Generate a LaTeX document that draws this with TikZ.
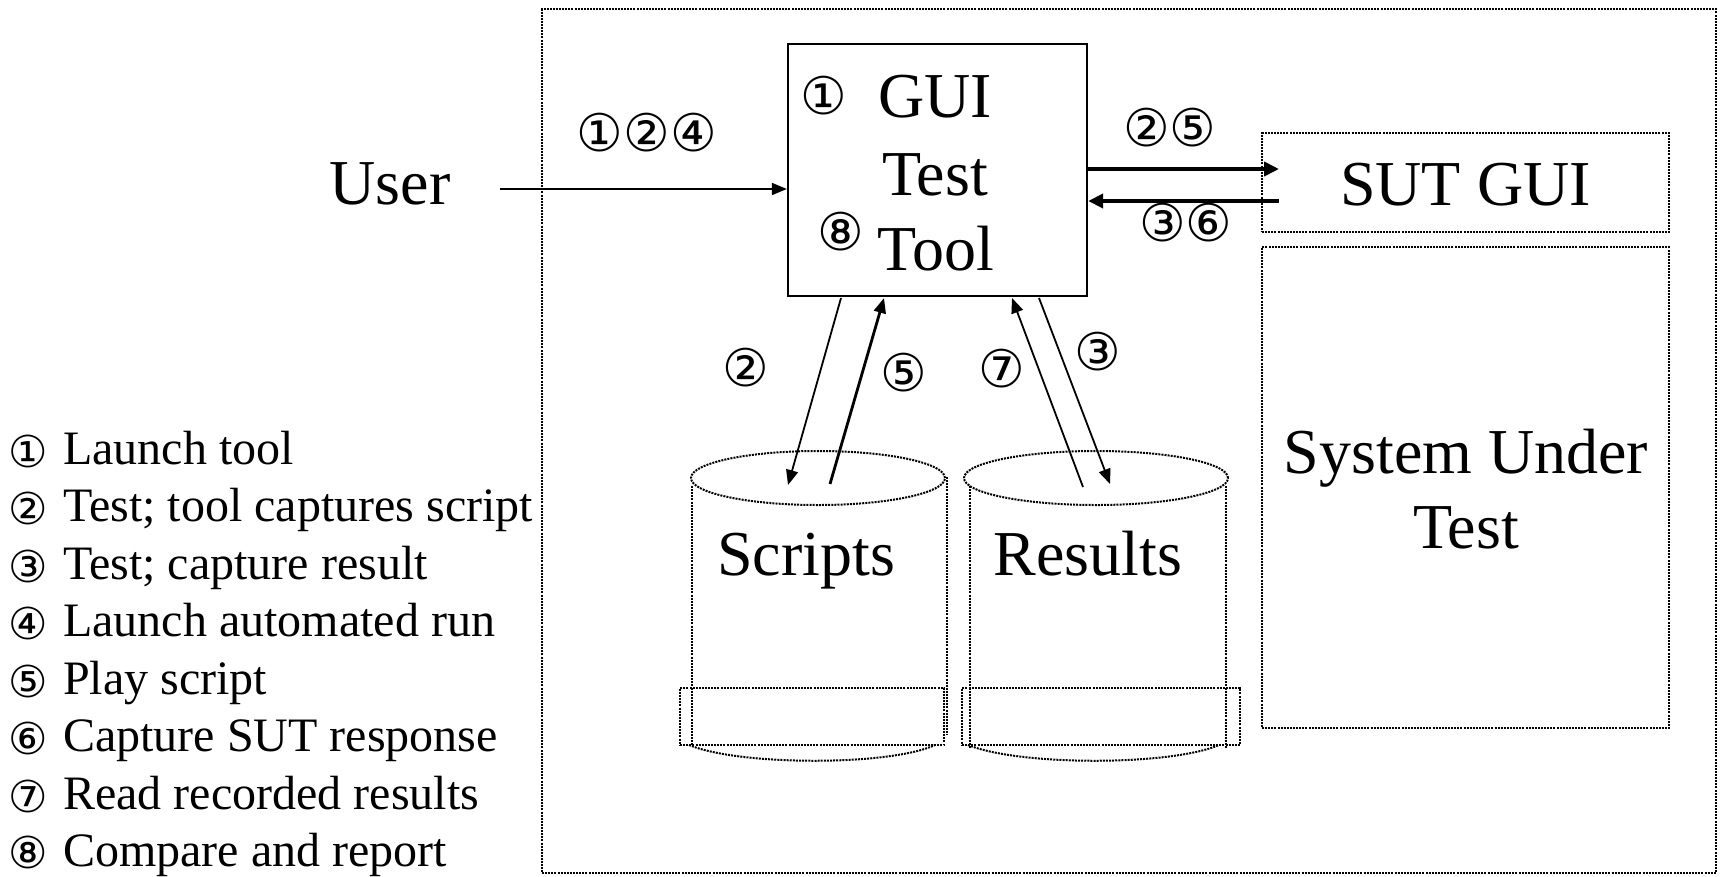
\documentclass[tikz,border=0pt]{standalone}
\usepackage{fontspec}
\setmainfont{Liberation Serif}
\newfontfamily\circfont{DejaVu Sans}
\usetikzlibrary{arrows.meta}
\begin{document}
\begin{tikzpicture}[x=1pt,y=-1pt,
  big/.style={font=\fontsize{64}{77}\selectfont, inner sep=0pt, anchor=base},
  leg/.style={font=\fontsize{48}{57}\selectfont, inner sep=0pt, anchor=base west},
  circlbl/.style={font=\circfont\fontsize{52}{58}\selectfont, inner sep=0pt},
  circleg/.style={font=\circfont\fontsize{44}{48}\selectfont, inner sep=0pt},
  dotbox/.style={draw, line width=2pt, dash pattern=on 2pt off 1.1pt},
  dotline/.style={line width=2pt, dash pattern=on 2pt off 1.1pt},
  solidbox/.style={draw, line width=2.3pt},
  thinarrow/.style={line width=1.8pt, -{Triangle[length=15pt,width=12pt]}},
  thickarrow/.style={line width=4pt, -{Triangle[length=15pt,width=14pt]}},
  midarrow/.style={line width=2.8pt, -{Triangle[length=15pt,width=12pt]}}
]
\useasboundingbox (0,0) rectangle (1721,876);

% outer frame
\node[dotbox, minimum width=1174pt, minimum height=864pt, inner sep=0pt] (outer) at (1129,441) {};

% GUI Test Tool box
\node[solidbox, minimum width=299pt, minimum height=252pt, inner sep=0pt] (gui) at (937.5,170) {};
\node[big] (tguiA) at (935,117) {GUI};
\node[big] (tguiB) at (935,195) {Test};
\node[big] (tguiC) at (936,270) {Tool};
\node[circlbl] (c1g) at (824,96) {①};
\node[circlbl] (c8g) at (841,232) {⑧};

% SUT boxes
\node[dotbox, minimum width=407pt, minimum height=99pt, inner sep=0pt] (sutgui) at (1465.5,182.5) {};
\node[big] (tsutgui) at (1465.5,205) {SUT GUI};
\node[dotbox, minimum width=407pt, minimum height=481pt, inner sep=0pt] (sut) at (1465.5,487.5) {};
\node[big] (tsutA) at (1466,473) {System Under};
\node[big] (tsutB) at (1466,548) {Test};

% User
\node[big] (user) at (390,204) {User};
\coordinate (ua) at (500,189);
\draw[thinarrow] (ua) -- (ua -| gui.west);
\node[circlbl] (l124) at (647,133) {①\hspace{0.5pt}②\hspace{0.5pt}④};

% GUI <-> SUT GUI arrows
\coordinate (sa) at (1279,169);
\coordinate (sb) at (1279,201);
\draw[thickarrow] (gui.east |- sa) -- (sa);
\draw[thickarrow] (sb) -- (sb -| gui.east);
\node[circlbl] (l25) at (1170,128) {②⑤};
\node[circlbl] (l36) at (1186,223) {③⑥};

% Scripts cylinder
\draw[dotline] (818,478) ellipse [x radius=127pt, y radius=27pt];
\coordinate (scrtop) at (818,478);
\draw[dotline] (692,486) -- (692,745);
\draw[dotline] (947,477) -- (947,735);
\node[dotbox, minimum width=264pt, minimum height=57pt, inner sep=0pt] (scrbase) at (812,716.5) {};
\draw[dotline] (689,745) .. controls (740,766) and (890,766) .. (935,745);
\node[big] (tscr) at (806,575) {Scripts};

% Results cylinder
\draw[dotline] (1096,478) ellipse [x radius=132pt, y radius=27pt];
\coordinate (restop) at (1096,478);
\draw[dotline] (970,486) -- (970,749);
\draw[dotline] (1226,486) -- (1226,749);
\node[dotbox, minimum width=278pt, minimum height=57pt, inner sep=0pt] (resbase) at (1101,716.5) {};
\draw[dotline] (968,745) .. controls (1020,766) and (1170,766) .. (1219,745);
\node[big] (tres) at (1088,575) {Results};

% arrows between tool and stores
\coordinate (a2s) at (841,298);
\coordinate (a2e) at (788,485);
\coordinate (a5s) at (830,484);
\coordinate (a5e) at (884,298);
\coordinate (a7s) at (1083,487);
\coordinate (a7e) at (1012,298);
\coordinate (a3s) at (1039,298);
\coordinate (a3e) at (1110,484);
\draw[thinarrow] (a2s) -- (a2e);
\draw[midarrow] (a5s) -- (a5e);
\draw[thinarrow] (a7s) -- (a7e);
\draw[thinarrow] (a3s) -- (a3e);
\node[circlbl] (l2) at (746,368) {②};
\node[circlbl] (l5) at (904,373) {⑤};
\node[circlbl] (l7) at (1002,369) {⑦};
\node[circlbl] (l3) at (1098,352) {③};

% legend
\node[circleg] (g1) at (28,451) {①};
\node[leg] (k1) at (63,464) {Launch tool};
\node[circleg] (g2) at (28,508.5) {②};
\node[leg] (k2) at (63,521.5) {Test; tool captures script};
\node[circleg] (g3) at (28,566) {③};
\node[leg] (k3) at (63,579) {Test; capture result};
\node[circleg] (g4) at (28,623.5) {④};
\node[leg] (k4) at (63,636.5) {Launch automated run};
\node[circleg] (g5) at (28,681) {⑤};
\node[leg] (k5) at (63,694) {Play script};
\node[circleg] (g6) at (28,738.5) {⑥};
\node[leg] (k6) at (63,751.5) {Capture SUT response};
\node[circleg] (g7) at (28,796) {⑦};
\node[leg] (k7) at (63,809) {Read recorded results};
\node[circleg] (g8) at (28,852.5) {⑧};
\node[leg] (k8) at (63,866.5) {Compare and report};
\end{tikzpicture}
\end{document}
